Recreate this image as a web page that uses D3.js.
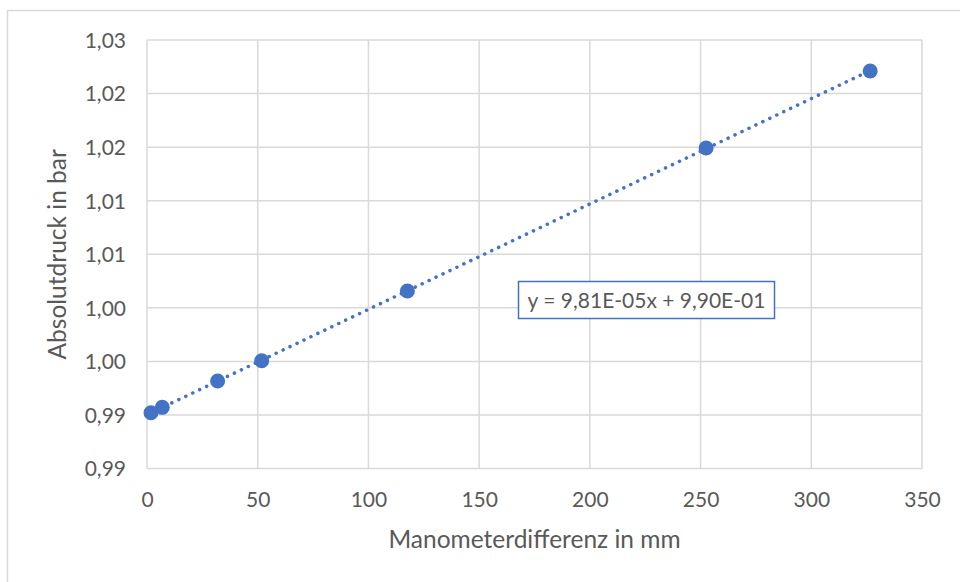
<!DOCTYPE html>
<html>
<head>
<meta charset="utf-8">
<script src="https://cdn.jsdelivr.net/npm/d3@7"></script>
<style>
  html, body { margin: 0; padding: 0; background: #fff; }
  svg { display: block; }
  text { font-family: Lato, "Open Sans", sans-serif; fill: #595959; }
</style>
</head>
<body>
<svg id="chart" width="960" height="582"></svg>
<script>
// ---- data ----
const xValues = [1.8, 6.9, 31.9, 51.8, 117.6, 252.5, 326.6];
const yValues = [0.99021, 0.99071, 0.99317, 0.99506, 1.00157, 1.01492, 1.02211];
const xTicks = [0, 50, 100, 150, 200, 250, 300, 350];
const yTicks = [0.985, 0.990, 0.995, 1.000, 1.005, 1.010, 1.015, 1.020, 1.025];
const yTickLabels = ["0,99", "0,99", "1,00", "1,00", "1,01", "1,01", "1,02", "1,02", "1,03"];
const xTitle = "Manometerdifferenz in mm";
const yTitle = "Absolutdruck in bar";
const equationText = "y = 9,81E-05x + 9,90E-01";

// ---- layout ----
const plot = { left: 147, right: 922, top: 40, bottom: 468.5 };
const blue = "#4472C4";
const gridColor = "#d9d9d9";
const tickFont = 21, titleFont = 24.5;

const svg = d3.select("#chart");

// outer chart border (top/left visible, others off-canvas)
svg.append("rect")
  .attr("x", 7.5).attr("y", 10.5)
  .attr("width", 1000).attr("height", 700)
  .attr("fill", "none").attr("stroke", "#d9d9d9").attr("stroke-width", 1.5);

const x = d3.scaleLinear().domain([0, 350]).range([plot.left, plot.right]);
const y = d3.scaleLinear().domain([0.985, 1.025]).range([plot.bottom, plot.top]);

// gridlines
const g = svg.append("g");
g.selectAll("line.hg").data(yTicks).join("line")
  .attr("class", "hg")
  .attr("x1", plot.left).attr("x2", plot.right)
  .attr("y1", d => y(d)).attr("y2", d => y(d))
  .attr("stroke", gridColor).attr("stroke-width", 1.5);
g.selectAll("line.vg").data(xTicks).join("line")
  .attr("class", "vg")
  .attr("y1", plot.top).attr("y2", plot.bottom)
  .attr("x1", d => x(d)).attr("x2", d => x(d))
  .attr("stroke", gridColor).attr("stroke-width", 1.5);

// axes (labels via d3 axes)
const xAxis = d3.axisBottom(x).tickValues(xTicks).tickSize(0).tickPadding(0).tickFormat(d3.format("d"));
const gx = svg.append("g").attr("transform", `translate(0,${plot.bottom})`).call(xAxis);
gx.select(".domain").remove();
gx.selectAll("text").attr("dy", null).attr("y", 38.5).attr("font-size", tickFont)
  .style("font-family", "Lato, 'Open Sans', sans-serif").attr("fill", "#595959");

const yAxis = d3.axisLeft(y).tickValues(yTicks).tickSize(0).tickPadding(0)
  .tickFormat((d, i) => yTickLabels[i]);
const gy = svg.append("g").attr("transform", `translate(${plot.left},0)`).call(yAxis);
gy.select(".domain").remove();
gy.selectAll("text").attr("x", -21).attr("dy", "0.35em").attr("font-size", tickFont)
  .style("font-family", "Lato, 'Open Sans', sans-serif").attr("fill", "#595959");

// trendline (least squares fit)
const n = xValues.length;
const mx = d3.mean(xValues), my = d3.mean(yValues);
let sxy = 0, sxx = 0;
for (let i = 0; i < n; i++) { sxy += (xValues[i] - mx) * (yValues[i] - my); sxx += (xValues[i] - mx) ** 2; }
const slope = sxy / sxx, intercept = my - slope * mx;
const x0 = d3.min(xValues), x1 = d3.max(xValues);
svg.append("line")
  .attr("x1", x(x0)).attr("y1", y(intercept + slope * x0))
  .attr("x2", x(x1)).attr("y2", y(intercept + slope * x1))
  .attr("stroke", blue).attr("stroke-width", 3.5)
  .attr("stroke-linecap", "round")
  .attr("stroke-dasharray", "0.1 7.6");

// markers
svg.selectAll("circle.pt").data(xValues.map((v, i) => [v, yValues[i]])).join("circle")
  .attr("class", "pt")
  .attr("cx", d => x(d[0])).attr("cy", d => y(d[1]))
  .attr("r", 7.5).attr("fill", blue);

// equation label
const lbl = svg.append("g").attr("transform", "translate(518.5,281.5)");
lbl.append("rect").attr("width", 256).attr("height", 37)
  .attr("fill", "#fff").attr("stroke", blue).attr("stroke-width", 1.5);
lbl.append("text").attr("x", 128).attr("y", 26.5).attr("text-anchor", "middle")
  .attr("font-size", tickFont).text(equationText);

// axis titles
svg.append("text").attr("x", (plot.left + plot.right) / 2).attr("y", 548)
  .attr("text-anchor", "middle").attr("font-size", titleFont).text(xTitle);
svg.append("text")
  .attr("transform", `translate(66,${(plot.top + plot.bottom) / 2}) rotate(-90)`)
  .attr("text-anchor", "middle").attr("font-size", titleFont).text(yTitle);
</script>
</body>
</html>
